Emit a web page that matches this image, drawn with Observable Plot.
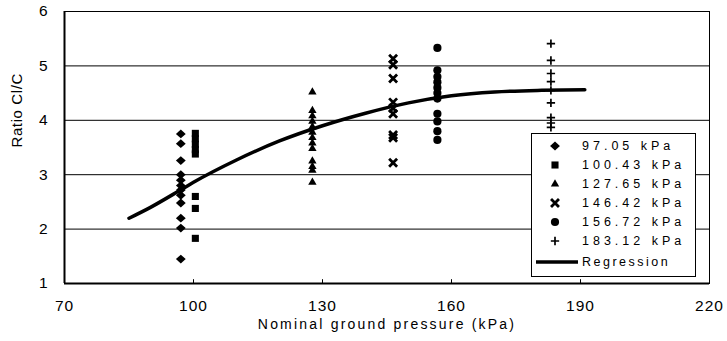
<!DOCTYPE html>
<html>
<head>
<meta charset="utf-8">
<script src="https://cdn.jsdelivr.net/npm/d3@7"></script>
<script src="https://cdn.jsdelivr.net/npm/@observablehq/plot@0.6"></script>
<style>
  body { margin: 0; background: #fff; }
  #wrap { position: relative; width: 727px; height: 341px; font-family: "Liberation Sans", Arial, sans-serif; color: #000; }
  #legend { position: absolute; left: 531px; top: 133px; width: 165px; height: 144px; background: #fff; border: 1.5px solid #000; box-sizing: border-box; }
  .row { position: absolute; left: 0; height: 18px; width: 100%; }
  .row svg { position: absolute; left: 0; top: 0; }
  .row span { position: absolute; left: 50px; top: 1px; font-size: 12.5px; letter-spacing: 4px; line-height: 16px; white-space: nowrap; }
</style>
</head>
<body>
<div id="wrap"><div id="legend"></div></div>
<script>
// ---- data ----
const seriesNames = ["97.05 kPa", "100.43 kPa", "127.65 kPa", "146.42 kPa", "156.72 kPa", "183.12 kPa"];
const pressures = [97.05, 100.43, 127.65, 146.42, 156.72, 183.12];
const ratios97 = [3.75, 3.57, 3.26, 3.0, 2.9, 2.8, 2.72, 2.62, 2.48, 2.2, 2.02, 1.45];
const ratios100 = [3.76, 3.66, 3.56, 3.46, 3.38, 2.6, 2.38, 1.83];
const ratios127 = [4.52, 4.18, 4.08, 3.98, 3.88, 3.78, 3.68, 3.58, 3.48, 3.25, 3.15, 3.08, 2.86];
const ratios146 = [5.13, 5.02, 4.77, 4.33, 4.22, 4.12, 3.73, 3.68, 3.22];
const ratios156 = [5.33, 4.92, 4.8, 4.7, 4.6, 4.5, 4.4, 4.12, 3.98, 3.8, 3.64];
const ratios183 = [5.41, 5.1, 4.86, 4.71, 4.55, 4.32, 4.05, 3.95, 3.87];
const regX = [85, 90, 97, 100, 110, 120, 130, 140, 150, 160, 170, 180, 191];
const regY = [2.2, 2.4, 2.72, 2.86, 3.27, 3.62, 3.9, 4.13, 4.32, 4.45, 4.52, 4.55, 4.56];
const xTicks = [70, 100, 130, 160, 190, 220];
const yTicks = [1, 2, 3, 4, 5, 6];
const gridY = [2, 3, 4, 5];
const xTitle = "Nominal ground pressure (kPa)";
const yTitle = "Ratio Cl/C";

// ---- symbols ----
const wideDiamond = {
  draw(ctx, size) {
    const r = Math.sqrt(size / 2);
    ctx.moveTo(0, -r); ctx.lineTo(r * 1.12, 0); ctx.lineTo(0, r); ctx.lineTo(-r * 1.12, 0); ctx.closePath();
  }
};
const styles = [
  {symbol: wideDiamond, r: 3.5, fill: "black"},
  {symbol: "square", r: 4.0, fill: "black"},
  {symbol: "triangle", r: 3.1, fill: "black"},
  {symbol: "times", r: 3.7, stroke: "black", strokeWidth: 2.8},
  {symbol: "circle", r: 4.1, fill: "black"},
  {symbol: "plus", r: 2.8, stroke: "black", strokeWidth: 1.7}
];
const allRatios = [ratios97, ratios100, ratios127, ratios146, ratios156, ratios183];
const reg = regX.map((x, i) => ({x, y: regY[i]}));

const dotMarks = allRatios.map((vals, i) => {
  const rows = vals.map(v => ({x: pressures[i], y: v}));
  const s = styles[i];
  return Plot.dot(rows, {x: "x", y: "y", symbol: () => s.symbol, r: s.r,
    fill: s.fill || "none", stroke: s.stroke || "none", strokeWidth: s.strokeWidth || 0});
});

const chart = Plot.plot({
  width: 727, height: 341,
  marginLeft: 64, marginRight: 18, marginTop: 11, marginBottom: 58,
  style: {fontFamily: '"Liberation Sans", Arial, sans-serif', fontSize: "15px", color: "black", background: "white"},
  x: {domain: [70, 220]},
  y: {domain: [1, 6]},
  symbol: {type: "identity"},
  marks: [
    Plot.ruleY(gridY, {y: d => d, stroke: "black", strokeWidth: 1}),
    Plot.frame({stroke: "black", strokeWidth: 1}),
    Plot.ruleX([70], {x: d => d, stroke: "black", strokeWidth: 2}),
    Plot.ruleY([1], {y: d => d, stroke: "black", strokeWidth: 2}),
    Plot.ruleX(xTicks.slice(1, -1), {x: d => d, y1: 1, y2: 1.07, stroke: "black", strokeWidth: 1}),
    Plot.axisX({ticks: xTicks, tickFormat: d3.format("d"), tickSize: 0, tickPadding: 16, label: null}),
    Plot.axisY({ticks: yTicks, tickFormat: d3.format("d"), tickSize: 0, tickPadding: 17, label: null}),
    Plot.line(reg, {x: "x", y: "y", stroke: "black", strokeWidth: 3.5, curve: "monotone-x"}),
    ...dotMarks,
    Plot.text([xTitle], {frameAnchor: "bottom", dy: 45}),
    Plot.text([yTitle], {frameAnchor: "left", dx: -47, rotate: -90})
  ]
});
const wrap = document.getElementById("wrap");
wrap.insertBefore(chart, wrap.firstChild);
const sel = d3.select(chart);
sel.selectAll('g[aria-label="x-axis tick label"], g[aria-label="y-axis tick label"]').style("font-size", "15.5px");
sel.selectAll('g[aria-label="x-axis tick label"] text').style("letter-spacing", "1px");
const texts = sel.selectAll("text");
texts.filter(function() { return this.textContent === xTitle; }).style("letter-spacing", "2.2px").style("font-size", "14px");
texts.filter(function() { return this.textContent === yTitle; }).style("letter-spacing", "0.6px").style("font-size", "15px");

// ---- legend ----
const legend = d3.select("#legend");
const symFns = [wideDiamond, d3.symbolSquare, d3.symbolTriangle, d3.symbolTimes, d3.symbolCircle, d3.symbolPlus];
seriesNames.forEach((name, i) => {
  const row = legend.append("div").attr("class", "row").style("top", (3 + i * 19) + "px");
  const svg = row.append("svg").attr("width", 40).attr("height", 18);
  const s = styles[i];
  svg.append("path")
    .attr("transform", "translate(23,9)")
    .attr("d", d3.symbol(symFns[i], Math.PI * s.r * s.r)())
    .attr("fill", s.fill || "none").attr("stroke", s.stroke || "none").attr("stroke-width", s.strokeWidth || 0);
  row.append("span").text(name);
});
const rrow = legend.append("div").attr("class", "row").style("top", (3 + 6 * 19 + 2) + "px");
rrow.append("svg").attr("width", 50).attr("height", 18)
  .append("line").attr("x1", 4).attr("x2", 46).attr("y1", 9).attr("y2", 9)
  .attr("stroke", "black").attr("stroke-width", 3.5);
rrow.append("span").style("left", "50px").style("letter-spacing", "2.5px").text("Regression");
</script>
</body>
</html>
